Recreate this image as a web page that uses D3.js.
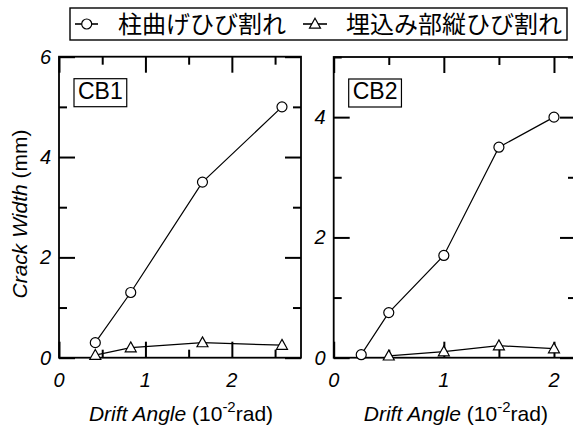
<!DOCTYPE html>
<html><head><meta charset="utf-8">
<script src="https://cdn.jsdelivr.net/npm/d3@7"></script>
<style>
html,body{margin:0;padding:0;background:#fff;}
svg{display:block;}
</style></head>
<body><svg id="c" width="573" height="429"></svg>
<script>
// ---- data ----
const cb1DriftFlex = [0.42, 0.83, 1.66, 2.58];
const cb1Flex      = [0.3, 1.3, 3.5, 5.0];
const cb1DriftEmb  = [0.42, 0.83, 1.66, 2.58];
const cb1Emb       = [0.05, 0.2, 0.3, 0.25];
const cb2DriftFlex = [0.25, 0.5, 1.0, 1.5, 2.0];
const cb2Flex      = [0.05, 0.75, 1.7, 3.5, 4.0];
const cb2DriftEmb  = [0.5, 1.0, 1.5, 2.0];
const cb2Emb       = [0.03, 0.1, 0.2, 0.15];
const legendLabels = ["柱曲げひび割れ", "埋込み部縦ひび割れ"];
const panelNames   = ["CB1", "CB2"];
const xTicks1 = [0, 1, 2];
const yTicks1 = [0, 2, 4, 6];
const xTicks2 = [0, 1, 2];
const yTicks2 = [0, 2, 4];

const svg = d3.select("#c");
const FONT = "'Liberation Sans', Arial, sans-serif";
const CJK = "'Noto Sans CJK JP', 'Noto Sans CJK SC', sans-serif";

function tri(s){ return "M0," + (-s*1.05) + "L" + s + "," + (s*0.75) + "L" + (-s) + "," + (s*0.75) + "Z"; }

function panel(opt){
  const x = d3.scaleLinear().domain(opt.xd).range([opt.x0, opt.x1]);
  const y = d3.scaleLinear().domain(opt.yd).range([opt.y1, opt.y0]);
  const g = svg.append("g");
  const big = 16, small = 8;
  const xMaj = d3.range(opt.xd[0], opt.xd[1] + 1e-9, 1);
  const xMin = d3.range(opt.xd[0] + 0.5, opt.xd[1] + 1e-9, 1);
  const yMaj = d3.range(opt.yd[0], opt.yd[1] + 1e-9, 2);
  const yMin = d3.range(opt.yd[0] + 1, opt.yd[1] + 1e-9, 2);
  const W = opt.x1 - opt.x0, H = opt.y1 - opt.y0;
  // inward ticks on four sides, built with d3 axes
  const axes = [
    [d3.axisBottom(x), xMaj, big, `translate(0,${opt.y1})`],
    [d3.axisBottom(x), xMin, small, `translate(0,${opt.y1})`],
    [d3.axisTop(x), xMaj, big, `translate(0,${opt.y0})`],
    [d3.axisTop(x), xMin, small, `translate(0,${opt.y0})`],
    [d3.axisLeft(y), yMaj, big, `translate(${opt.x0},0)`],
    [d3.axisLeft(y), yMin, small, `translate(${opt.x0},0)`],
    [d3.axisRight(y), yMaj, big, `translate(${opt.x1},0)`],
    [d3.axisRight(y), yMin, small, `translate(${opt.x1},0)`]
  ];
  axes.forEach(([ax, vals, L, tr]) => {
    const a = g.append("g").attr("transform", tr)
      .call(ax.tickValues(vals).tickSize(-L).tickSizeOuter(0).tickFormat(""));
    a.select(".domain").remove();
    a.selectAll(".tick line").attr("stroke", "#000").attr("stroke-width", 2);
  });
  // frame
  g.append("rect").attr("x", opt.x0).attr("y", opt.y0)
    .attr("width", W).attr("height", H)
    .attr("fill", "none").attr("stroke", "#000").attr("stroke-width", 1.8);
  // tick labels
  opt.xt.forEach(v => g.append("text").attr("x", x(v)).attr("y", opt.y1 + 29)
    .attr("text-anchor", "middle").attr("font-family", FONT).attr("font-style", "italic")
    .attr("font-size", 20).text(v));
  opt.yt.forEach(v => g.append("text").attr("x", opt.x0 - 8).attr("y", y(v) + 7)
    .attr("text-anchor", "end").attr("font-family", FONT).attr("font-style", "italic")
    .attr("font-size", 20).text(v));
  // x title
  const xt = g.append("text").attr("x", (opt.x0 + opt.x1) / 2 + 1).attr("y", opt.y1 + 63)
    .attr("text-anchor", "middle").attr("font-family", FONT).attr("font-size", 21);
  xt.append("tspan").attr("font-style", "italic").text("Drift Angle");
  xt.append("tspan").text(" (10");
  xt.append("tspan").attr("dy", -9).attr("font-size", 15).text("-2");
  xt.append("tspan").attr("dy", 9).text("rad)");
  // name box
  const nb = g.append("g");
  const nt = nb.append("text").attr("x", opt.x0 + 19).attr("y", opt.y0 + 42)
    .attr("font-family", FONT).attr("font-size", 23).text(opt.name);
  const bb = nt.node().getBBox();
  nb.insert("rect", "text").attr("x", bb.x - 4).attr("y", bb.y + 1)
    .attr("width", bb.width + 8).attr("height", bb.height + 2)
    .attr("fill", "#fff").attr("stroke", "#000").attr("stroke-width", 1.2);
  // lines
  const line = d3.line().x(d => x(d[0])).y(d => y(d[1]));
  const flex = d3.zip(opt.fx, opt.fy);
  const emb = d3.zip(opt.ex, opt.ey);
  g.append("path").attr("d", line(flex)).attr("fill", "none").attr("stroke", "#000").attr("stroke-width", 1.2);
  g.append("path").attr("d", line(emb)).attr("fill", "none").attr("stroke", "#000").attr("stroke-width", 1.2);
  g.selectAll(null).data(flex).join("circle").attr("cx", d => x(d[0])).attr("cy", d => y(d[1]))
    .attr("r", 5).attr("fill", "#fff").attr("stroke", "#000").attr("stroke-width", 1.2);
  g.selectAll(null).data(emb).join("path").attr("d", tri(5.5))
    .attr("transform", d => "translate(" + x(d[0]) + "," + y(d[1]) + ")")
    .attr("fill", "#fff").attr("stroke", "#000").attr("stroke-width", 1.2);
}

panel({x0: 59, x1: 301, y0: 56.7, y1: 357.7, xd: [0, 2.8], yd: [0, 6], xt: xTicks1, yt: yTicks1,
  name: panelNames[0], fx: cb1DriftFlex, fy: cb1Flex, ex: cb1DriftEmb, ey: cb1Emb});
panel({x0: 333.7, x1: 576, y0: 57, y1: 357.7, xd: [0, 2.2], yd: [0, 5], xt: xTicks2, yt: yTicks2,
  name: panelNames[1], fx: cb2DriftFlex, fy: cb2Flex, ex: cb2DriftEmb, ey: cb2Emb});

// y title
const yt = svg.append("text").attr("transform", "translate(27,214) rotate(-90)")
  .attr("text-anchor", "middle").attr("font-family", FONT).attr("font-size", 21);
yt.append("tspan").attr("font-style", "italic").text("Crack Width");
yt.append("tspan").text(" (mm)");

// legend
const lg = svg.append("g");
lg.append("rect").attr("x", 70).attr("y", 8).attr("width", 497).attr("height", 32)
  .attr("fill", "#fff").attr("stroke", "#000").attr("stroke-width", 1.4);
lg.append("path").attr("d", "M75,24L98,24").attr("fill", "none").attr("stroke", "#000").attr("stroke-width", 1.6);
lg.append("path").attr("d", "M303,24L327,24").attr("fill", "none").attr("stroke", "#000").attr("stroke-width", 1.6);
lg.append("circle").attr("cx", 86.7).attr("cy", 24).attr("r", 5).attr("fill", "#fff").attr("stroke", "#000").attr("stroke-width", 1.2);
lg.append("text").attr("x", 118).attr("y", 32.5).attr("font-family", CJK).attr("font-size", 24).text(legendLabels[0]);
lg.append("path").attr("d", tri(5.5)).attr("transform", "translate(315,24)").attr("fill", "#fff").attr("stroke", "#000").attr("stroke-width", 1.2);
lg.append("text").attr("x", 346).attr("y", 32.5).attr("font-family", CJK).attr("font-size", 24).text(legendLabels[1]);
</script></body></html>
